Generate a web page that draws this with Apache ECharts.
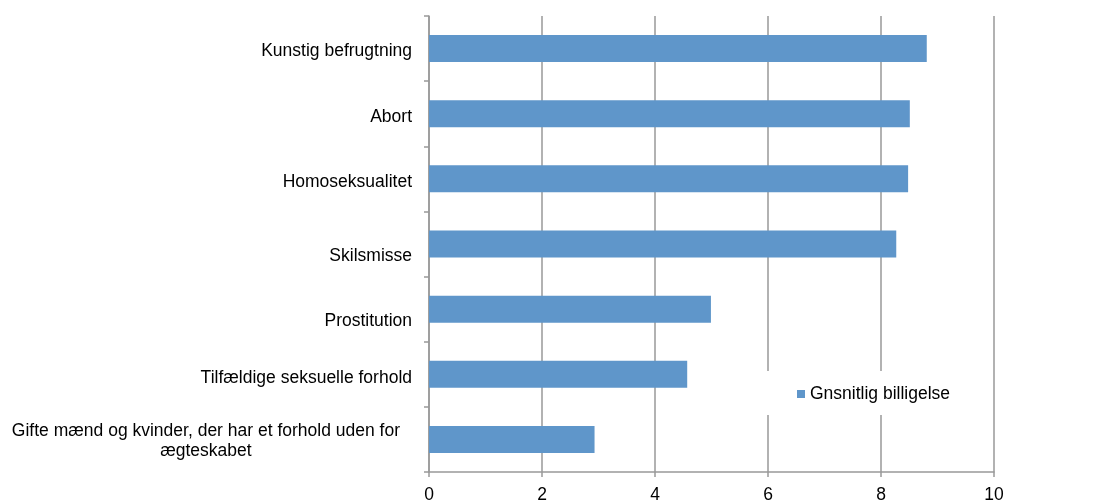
<!DOCTYPE html>
<html>
<head>
<meta charset="utf-8">
<script src="https://cdn.jsdelivr.net/npm/echarts@6/dist/echarts.min.js"></script>
<style>html,body{margin:0;padding:0;background:#fff;}#c{width:1116px;height:502px;}</style>
</head>
<body>
<div id="c"></div>
<script>
const categories = [
  'Kunstig befrugtning',
  'Abort',
  'Homoseksualitet',
  'Skilsmisse',
  'Prostitution',
  'Tilfældige seksuelle forhold',
  'Gifte mænd og kvinder, der har et forhold uden for\nægteskabet'
];
const seriesName = 'Gnsnitlig billigelse';
const values = [8.81, 8.51, 8.48, 8.27, 4.99, 4.57, 2.93];
const xMin = 0, xMax = 10, xStep = 2;

// label vertical nudges (style only), px of top padding
const labelPadTop = [6, 6, 6, 25, 24, 8, 4];

const FONT = 'Liberation Sans';
const FS = 17.5;
const chart = echarts.init(document.getElementById('c'), null, {renderer: 'canvas'});
chart.setOption({
  animation: false,
  backgroundColor: '#fff',
  textStyle: {fontFamily: FONT},
  grid: {left: 429, right: 122, top: 16, bottom: 30, containLabel: false, outerBoundsMode: 'none'},
  legend: {
    data: [seriesName],
    left: 765, top: 371,
    padding: [14, 11, 12, 32],
    itemWidth: 8, itemHeight: 8,
    icon: 'rect',
    backgroundColor: '#fff',
    textStyle: {fontSize: FS, fontFamily: FONT, color: '#000'}
  },
  xAxis: {
    type: 'value', min: xMin, max: xMax, interval: xStep,
    axisLine: {show: true, lineStyle: {color: '#999', width: 1.5}},
    axisTick: {show: true, length: 5, lineStyle: {color: '#999', width: 1.5}},
    splitLine: {show: true, lineStyle: {color: '#999', width: 1.5}},
    axisLabel: {fontSize: FS, fontFamily: FONT, color: '#000', margin: 14}
  },
  yAxis: {
    type: 'category', inverse: true,
    data: categories.map((c, i) => ({value: c, textStyle: {padding: [labelPadTop[i], 0, 0, 0]}})),
    axisLine: {show: true, lineStyle: {color: '#999', width: 1.5}},
    axisTick: {show: true, length: 5, interval: 0, alignWithLabel: false, lineStyle: {color: '#999', width: 1.5}},
    splitLine: {show: false},
    axisLabel: {
      fontSize: FS, fontFamily: FONT, color: '#000', margin: 17, interval: 0,
      lineHeight: 20,
      formatter: function (v) {
        if (v.indexOf('\n') >= 0) {
          return v.split('\n').map(s => '{c|' + s + '}').join('\n');
        }
        return v;
      },
      rich: {c: {align: 'center', fontSize: FS, fontFamily: FONT, color: '#000', lineHeight: 20, padding: [0, 12, 0, 0]}}
    }
  },
  series: [{
    name: seriesName,
    type: 'bar',
    data: values,
    barWidth: 27,
    itemStyle: {color: '#5f96ca'}
  }]
});
</script>
</body>
</html>
